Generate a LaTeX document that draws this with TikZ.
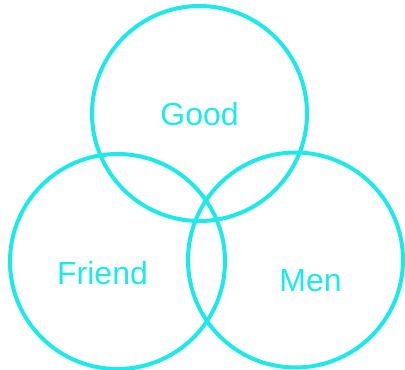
\documentclass[tikz,border=0pt]{standalone}
\usepackage{fontspec}
\setmainfont{Liberation Sans}
\usepackage{xcolor}
\usepackage{tikz}
\definecolor{venncyan}{RGB}{30,232,232}

\begin{document}
\begin{tikzpicture}[
    x=1pt, y=-1pt,
    every node/.style={font=\fontsize{32}{36}\selectfont, text=venncyan},
    set/.style ={circle, draw=venncyan, line width=4pt,
                 minimum size=215pt, inner sep=0pt},
    lbl/.style ={anchor=base, inner sep=0pt},
  ]
  \useasboundingbox (0,0) rectangle (405,370);

  % the three sets
  \node[set] (cgood)   at (199.5,113.5) {};
  \node[set] (cfriend) at (117.5,261.5) {};
  \node[set] (cmen)    at (295.5,260)   {};

  % their names
  \node[lbl] (good)   at (199.5,125) {Good};
  \node[lbl] (friend) at (102.5,284) {Friend};
  \node[lbl] (men)    at (310.5,291) {Men};
\end{tikzpicture}
\end{document}
